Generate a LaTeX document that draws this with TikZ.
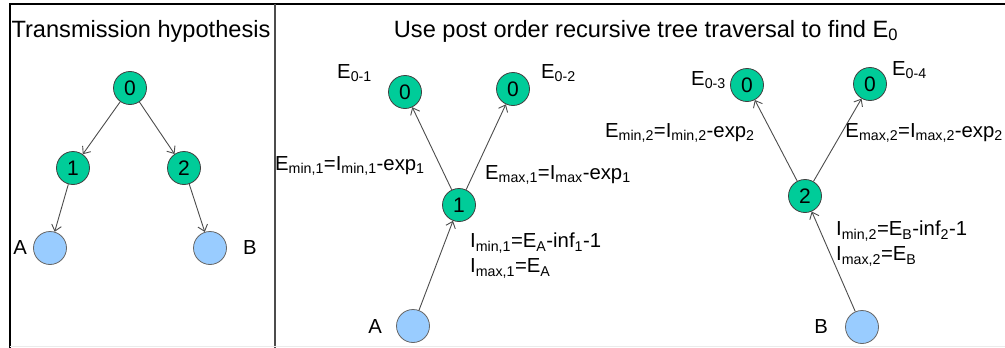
\documentclass[tikz,border=0pt]{standalone}
\usepackage{fontspec}
\setmainfont{Liberation Sans}
\usetikzlibrary{arrows.meta}
\definecolor{nodegreen}{RGB}{0,204,153}
\definecolor{leafblue}{RGB}{153,204,255}
\newcommand\lsub[1]{\textsubscript{#1}}
\begin{document}
\begin{tikzpicture}[x=1pt,y=-1pt,
  inode/.style={circle,draw=black!75,line width=0.8pt,fill=nodegreen,minimum size=33pt,inner sep=0pt,
    font=\fontsize{21}{21}\selectfont},
  leaf/.style={circle,draw=black!60,line width=0.8pt,fill=leafblue,minimum size=33pt,inner sep=0pt},
  edge/.style={draw=black!70,line width=0.9pt,-{Straight Barb[length=6pt,width=10pt]}},
  title/.style={font=\fontsize{23.6}{24}\selectfont,inner sep=0pt},
  lbl/.style={font=\fontsize{20.3}{25}\selectfont,inner sep=0pt,align=left},
  ]
\useasboundingbox (0,0) rectangle (1005,348);
% frame and divider
\draw[line width=1.3pt] (10,348) -- (10,4) -- (1005,4);
\draw[line width=1.3pt,black!70] (275,4) -- (275,348);
\draw[line width=0.6pt,black!8] (10,346.5) -- (1005,346.5);

% ---- left panel: transmission hypothesis ----
\node[title] (lt) at (141,31) {Transmission hypothesis};
\node[inode] (h0) at (130,88) {0};
\node[inode] (h1) at (73,168) {1};
\node[inode] (h2) at (184,168) {2};
\node[leaf] (ha) at (50,248) {};
\node[leaf] (hb) at (210,248) {};
\node[lbl,anchor=east] (hal) at (27,248) {A};
\node[lbl,anchor=west] (hbl) at (243,248) {B};
\draw[edge] (h0) -- (h1);
\draw[edge] (h0) -- (h2);
\draw[edge] (h1) -- (ha);
\draw[edge] (h2) -- (hb);

% ---- right panel: post order traversal ----
\node[title] (rt) at (646,31) {Use post order recursive tree traversal to find E\lsub{0}};

% subtree rooted at 1
\node[inode] (p1a) at (405,92) {0};
\node[inode] (p1b) at (513,89) {0};
\node[inode] (p1) at (459,205) {1};
\node[leaf] (pa) at (413,326) {};
\node[lbl,anchor=east] (pal) at (382,327) {A};
\node[lbl,anchor=east] (e01) at (372,73) {E\lsub{0-1}};
\node[lbl,anchor=west] (e02) at (541,73) {E\lsub{0-2}};
\node[lbl,anchor=west] (emin1) at (275,166) {E\lsub{min,1}=I\lsub{min,1}-exp\lsub{1}};
\node[lbl,anchor=west] (emax1) at (485,175) {E\lsub{max,1}=I\lsub{max}-exp\lsub{1}};
\node[lbl,anchor=north west] (i1) at (470,233) {I\lsub{min,1}=E\lsub{A}-inf\lsub{1}-1\\I\lsub{max,1}=E\lsub{A}};
\draw[edge] (pa) -- (p1);
\draw[edge] (p1) -- (p1a);
\draw[edge] (p1) -- (p1b);

% subtree rooted at 2
\node[inode] (p2a) at (747,85) {0};
\node[inode] (p2b) at (870,84) {0};
\node[inode] (p2) at (805,196) {2};
\node[leaf] (pb) at (862,327) {};
\node[lbl,anchor=east] (pbl) at (828,327) {B};
\node[lbl,anchor=east] (e03) at (726,80) {E\lsub{0-3}};
\node[lbl,anchor=west] (e04) at (892,70) {E\lsub{0-4}};
\node[lbl,anchor=west] (emin2) at (605,133) {E\lsub{min,2}=I\lsub{min,2}-exp\lsub{2}};
\node[lbl,anchor=east] (emax2) at (1003,133) {E\lsub{max,2}=I\lsub{max,2}-exp\lsub{2}};
\node[lbl,anchor=north west] (i2) at (836,221) {I\lsub{min,2}=E\lsub{B}-inf\lsub{2}-1\\I\lsub{max,2}=E\lsub{B}};
\draw[edge] (pb) -- (p2);
\draw[edge] (p2) -- (p2a);
\draw[edge] (p2) -- (p2b);
\end{tikzpicture}
\end{document}
